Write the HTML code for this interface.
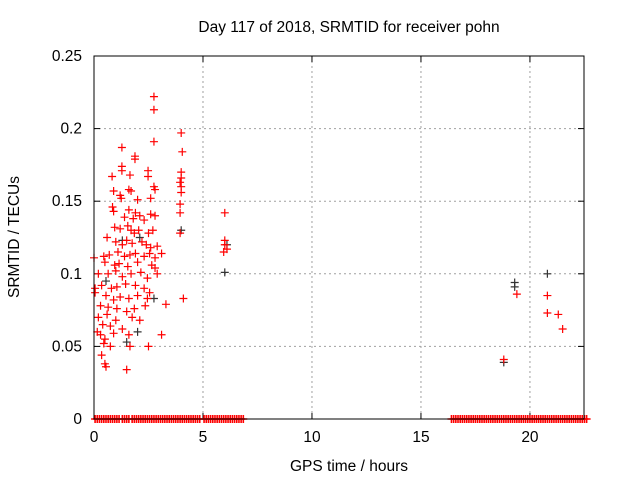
<!DOCTYPE html>
<html><head><meta charset="utf-8"><style>
body{margin:0;background:#fff}
svg{display:block;font-family:"Liberation Sans",sans-serif}
</style></head><body>
<svg id="chart" width="640" height="480" viewBox="0 0 640 480">
<rect width="640" height="480" fill="#fff"/>
<text x="349" y="32" font-size="15.5" text-anchor="middle">Day 117 of 2018, SRMTID for receiver pohn</text>
<text transform="translate(19,237) rotate(-90)" font-size="15.5" text-anchor="middle">SRMTID / TECUs</text>
<text x="349" y="471" font-size="15.5" text-anchor="middle">GPS time / hours</text>
<g id="grid"></g>
<g id="ticks"></g>
<g id="marks"></g>
<rect x="94" y="56" width="490" height="363" fill="none" stroke="#000" stroke-width="1"/>
</svg>
<script>
const xTicks=[0,5,10,15,20];
const yTicks=[0,0.05,0.1,0.15,0.2,0.25];
const yTickLabels=["0","0.05","0.1","0.15","0.2","0.25"];
const redPoints=[
[2.75,0.222],[2.75,0.213],[4.0,0.197],[2.75,0.191],[1.28,0.187],[1.88,0.181],[1.88,0.179],[4.05,0.184],
[1.28,0.174],[1.28,0.171],[2.48,0.171],[2.48,0.167],[0.83,0.167],[1.65,0.168],[4.0,0.17],[4.0,0.166],
[4.0,0.16],[3.95,0.163],[4.0,0.156],[2.75,0.16],[2.8,0.158],[1.6,0.158],[1.7,0.157],[0.9,0.157],
[1.2,0.154],[1.25,0.152],[2.0,0.151],[2.6,0.152],[0.85,0.146],[0.9,0.143],[1.6,0.144],[1.9,0.142],
[2.1,0.14],[2.6,0.141],[2.8,0.14],[3.95,0.148],[3.95,0.142],[1.4,0.139],[1.8,0.138],[2.3,0.137],
[0.95,0.132],[1.2,0.131],[1.55,0.133],[1.7,0.13],[1.85,0.128],[2.05,0.13],[2.5,0.128],[2.7,0.13],
[0.6,0.125],[1.0,0.122],[1.3,0.12],[1.5,0.123],[1.75,0.121],[2.2,0.122],[2.4,0.12],[2.6,0.118],[2.9,0.119],
[0.45,0.112],[0.7,0.113],[1.1,0.115],[1.4,0.112],[1.65,0.113],[1.9,0.114],[2.3,0.112],[2.55,0.114],[2.8,0.111],[3.1,0.114],
[0.0,0.111],[0.5,0.108],[0.95,0.106],[1.15,0.107],[1.55,0.105],[2.0,0.108],[2.65,0.106],[2.8,0.104],
[0.2,0.1],[0.65,0.1],[1.0,0.102],[1.3,0.098],[1.7,0.1],[2.15,0.101],[2.45,0.097],[2.9,0.1],
[0.05,0.09],[0.35,0.092],[0.8,0.09],[1.05,0.091],[1.45,0.093],[1.9,0.092],[2.3,0.09],[2.55,0.087],
[0.05,0.087],[0.55,0.085],[0.9,0.082],[1.2,0.084],[1.6,0.083],[2.0,0.085],[2.45,0.083],[4.1,0.083],
[0.3,0.078],[0.65,0.077],[1.05,0.076],[1.5,0.074],[1.85,0.076],[2.35,0.078],[3.3,0.079],
[0.2,0.07],[0.6,0.072],[1.0,0.068],[1.75,0.07],[2.1,0.068],[0.4,0.065],[0.75,0.064],[1.3,0.062],
[0.15,0.06],[0.3,0.058],[0.5,0.055],[0.9,0.059],[1.6,0.058],[3.1,0.058],[0.45,0.052],[0.75,0.05],
[1.65,0.05],[2.5,0.05],[0.35,0.044],[0.5,0.038],[0.55,0.036],[1.5,0.034],
[6.0,0.142],[6.0,0.123],[6.0,0.12],[5.95,0.115],[6.1,0.117],[3.95,0.128],
[18.8,0.041],[19.4,0.086],[20.8,0.085],[20.8,0.073],[21.3,0.072],[21.5,0.062]
];
const blackPoints=[[2.1,0.125],[4.0,0.13],[6.0,0.101],[6.1,0.12],[18.8,0.039],[19.3,0.094],[19.3,0.091],[20.8,0.1],[2.75,0.083],[1.5,0.053],[0.55,0.095],[1.3,0.123],[2.0,0.06]];
const zeroHours=[0.05,0.15,0.25,0.35,0.45,0.55,0.65,0.75,0.85,0.95,1.05,1.15,1.3,1.4,1.5,1.6,1.75,1.85,1.95,2.05,2.15,2.25,2.35,2.45,2.55,2.65,2.75,2.85,2.95,3.05,3.15,3.25,3.35,3.45,3.55,3.65,3.75,3.85,3.95,4.05,4.15,4.25,4.35,4.45,4.55,4.65,4.75,4.85,5.05,5.15,5.25,5.35,5.45,5.55,5.65,5.75,5.85,5.95,6.05,6.15,6.25,6.35,6.45,6.55,6.65,6.75,6.85,
16.4,16.5,16.6,16.7,16.8,16.9,17.0,17.1,17.2,17.3,17.4,17.5,17.6,17.7,17.8,17.9,18.0,18.1,18.2,18.3,18.4,18.5,18.6,18.7,18.8,18.9,19.0,19.1,19.2,19.3,19.4,19.5,19.6,19.7,19.8,19.9,20.0,20.1,20.2,20.3,20.4,20.5,20.6,20.7,20.8,20.9,21.0,21.1,21.2,21.3,21.4,21.5,21.6,21.7,21.8,21.9,22.0,22.1,22.2,22.3,22.4,22.5,22.6];
const X0=94,X1=584,Y0=419,Y1=56,XMAX=22.48,YMAX=0.25;
const sx=v=>X0+v/XMAX*(X1-X0);
const sy=v=>Y0-v/YMAX*(Y0-Y1);
const NS="http://www.w3.org/2000/svg";
function mk(tag,attrs,parent){const e=document.createElementNS(NS,tag);for(const k in attrs)e.setAttribute(k,attrs[k]);parent.appendChild(e);return e;}
const grid=document.getElementById('grid'),ticks=document.getElementById('ticks'),marks=document.getElementById('marks');
xTicks.forEach((t,i)=>{
 const x=sx(t);
 if(t>0){const g=mk('line',{x1:x,x2:x,y1:Y1,y2:Y0,stroke:'#a0a0a0','stroke-dasharray':'2,3'},grid);
 
 }
 mk('line',{x1:x,x2:x,y1:Y0,y2:Y0-6,stroke:'#000'},ticks);
 mk('line',{x1:x,x2:x,y1:Y1,y2:Y1+6,stroke:'#000'},ticks);
 const tx=mk('text',{x:x,y:Y0+23,'font-size':15.5,'text-anchor':'middle'},ticks);
 tx.textContent=String(t);
 
 
});
yTicks.forEach((t,i)=>{
 const y=sy(t);
 if(t>0&&t<YMAX){const g=mk('line',{x1:X0,x2:X1,y1:y,y2:y,stroke:'#a0a0a0','stroke-dasharray':'2,3'},grid);
 
 }
 mk('line',{x1:X0,x2:X0+6,y1:y,y2:y,stroke:'#000'},ticks);
 mk('line',{x1:X1,x2:X1-6,y1:y,y2:y,stroke:'#000'},ticks);
 const tx=mk('text',{x:82,y:y+5,'font-size':15.5,'text-anchor':'end'},ticks);
 tx.textContent=yTickLabels[i];
 
 
});
function plus(x,y,color,name,w){
 const p=mk('path',{d:`M${x-4},${y}H${x+4}M${x},${y-4}V${y+4}`,stroke:color,'stroke-width':w,fill:'none'},marks);
 
 
}
blackPoints.forEach(d=>plus(sx(d[0]),sy(d[1]),'#333','black-point',1.2));
redPoints.forEach(d=>plus(sx(d[0]),sy(d[1]),'#f00','red-point',1.2));
zeroHours.forEach(h=>plus(sx(h),sy(0),'#f00','zero-point',1.6));
</script>
</body></html>
